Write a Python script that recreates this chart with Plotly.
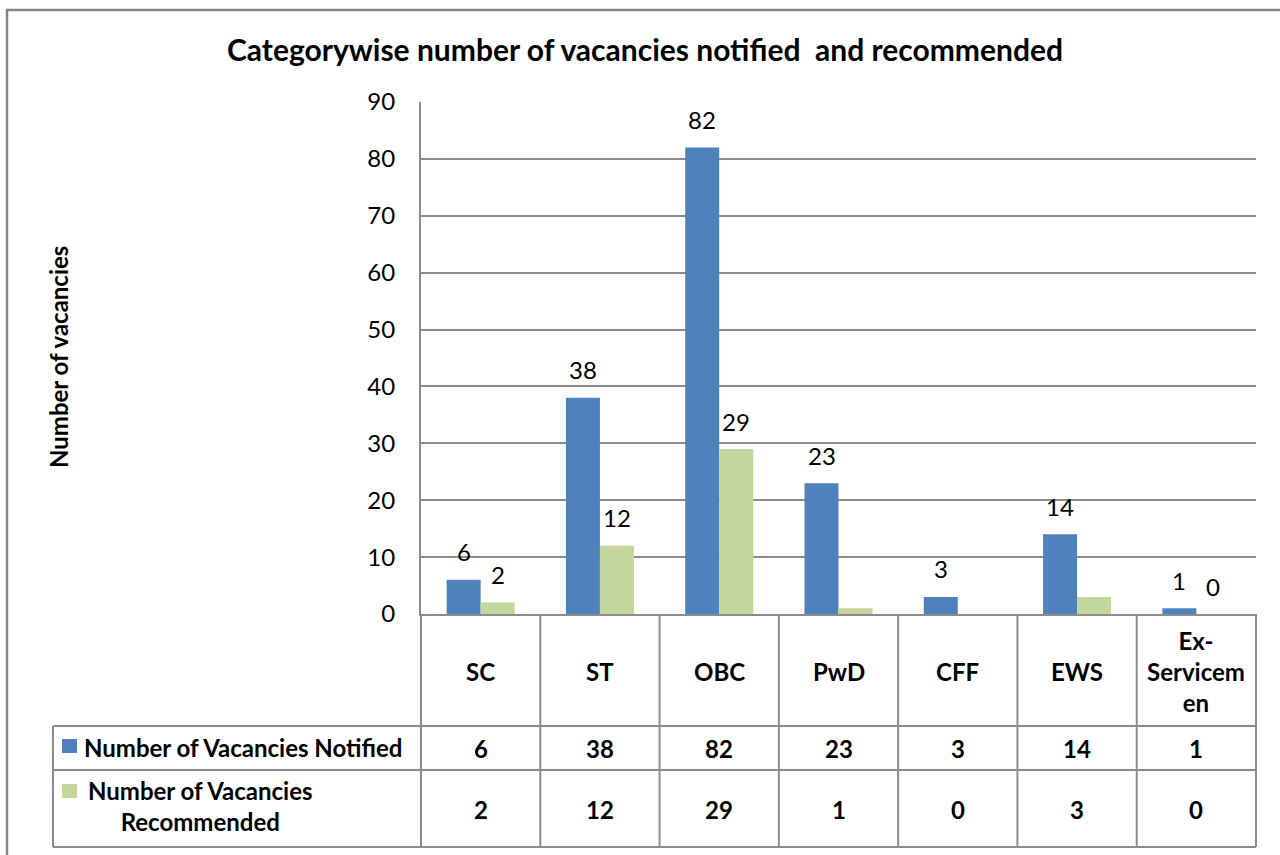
import plotly.graph_objects as go

# ---------------- data ----------------
categories = ["SC", "ST", "OBC", "PwD", "CFF", "EWS", "Ex-Servicemen"]
header_labels = ["SC", "ST", "OBC", "PwD", "CFF", "EWS", "Ex-<br>Servicem<br>en"]
notified = [6, 38, 82, 23, 3, 14, 1]
recommended = [2, 12, 29, 1, 0, 3, 0]
recommended_label_shown = [True, True, True, False, False, False, True]
series_names = ["Number of Vacancies Notified", "Number of Vacancies<br>Recommended"]
y_ticks = [0, 10, 20, 30, 40, 50, 60, 70, 80, 90]

title_text = "Categorywise number of vacancies notified  and recommended"
y_title = "Number of vacancies"

# ---------------- style ----------------
BLUE = "#4F81BD"
GREEN = "#C3D69B"
GRID = "#8C8C8C"
FONT = "Lato"
FS = 24
W, H = 1280, 855
L, R, T, B = 421, 1256, 102, 614  # plot area in px


def px_x(px):
    return (px - L) / (R - L)


def px_y(py):
    return (B - py) / (B - T)


fig = go.Figure()
fig.add_trace(go.Bar(x=categories, y=notified, name="Notified", marker=dict(color=BLUE, line=dict(width=0))))
fig.add_trace(go.Bar(x=categories, y=recommended, name="Recommended", marker=dict(color=GREEN, line=dict(width=0))))

ann = []
shapes = []
reg = dict(family=FONT, size=FS, color="#000")
bold = dict(family=FONT, size=FS, color="#000", weight="bold")

# data labels above bars
for c, v in zip(categories, notified):
    ann.append(dict(x=c, y=v, xref="x", yref="y", text=str(v), showarrow=False,
                    xshift=-17, yshift=28, yanchor="middle", font=reg))
for c, v, s in zip(categories, recommended, recommended_label_shown):
    if s:
        ann.append(dict(x=c, y=v, xref="x", yref="y", text=str(v), showarrow=False,
                        xshift=17, yshift=28, yanchor="middle", font=reg))

# table header labels
for c, lab in zip(categories, header_labels):
    ann.append(dict(x=c, y=px_y(671), xref="x", yref="paper", text=lab, showarrow=False,
                    yanchor="middle", font=bold))
# table values
for c, v in zip(categories, notified):
    ann.append(dict(x=c, y=px_y(748), xref="x", yref="paper", text=str(v), showarrow=False,
                    yanchor="middle", font=bold))
for c, v in zip(categories, recommended):
    ann.append(dict(x=c, y=px_y(809), xref="x", yref="paper", text=str(v), showarrow=False,
                    yanchor="middle", font=bold))

# legend keys inside table
ann.append(dict(x=px_x(82), y=px_y(747), xref="paper", yref="paper", text=series_names[0],
                showarrow=False, xanchor="left", yanchor="middle", font=bold))
ann.append(dict(x=px_x(200), y=px_y(806), xref="paper", yref="paper", text=series_names[1],
                showarrow=False, xanchor="center", yanchor="middle", align="center", font=bold))
shapes.append(dict(type="rect", xref="paper", yref="paper", x0=px_x(62), x1=px_x(77),
                   y0=px_y(753), y1=px_y(739), fillcolor=BLUE, line=dict(width=0)))
shapes.append(dict(type="rect", xref="paper", yref="paper", x0=px_x(62), x1=px_x(77),
                   y0=px_y(798), y1=px_y(784), fillcolor=GREEN, line=dict(width=0)))

# y axis title
ann.append(dict(x=px_x(58), y=px_y(357), xref="paper", yref="paper", text=y_title, textangle=-90,
                showarrow=False, xanchor="center", yanchor="middle", font=bold))

# table grid lines
line = dict(color=GRID, width=2)
for i in range(1, len(categories)):
    shapes.append(dict(type="line", xref="x", yref="paper", x0=i - 0.5, x1=i - 0.5,
                       y0=0, y1=px_y(847), line=line))
for xx in (0, 1):
    shapes.append(dict(type="line", xref="paper", yref="paper", x0=xx, x1=xx,
                       y0=0, y1=px_y(847), line=line))
shapes.append(dict(type="line", xref="paper", yref="paper", x0=px_x(53), x1=px_x(53),
                   y0=px_y(726), y1=px_y(847), line=line))
for yy in (726, 770, 847):
    shapes.append(dict(type="line", xref="paper", yref="paper", x0=px_x(53), x1=1,
                       y0=px_y(yy), y1=px_y(yy), line=line))

# outer chart border (left and top)
shapes.append(dict(type="line", xref="paper", yref="paper", x0=px_x(7), x1=px_x(7),
                   y0=px_y(10), y1=px_y(870), line=dict(color="#868686", width=2.5)))
shapes.append(dict(type="line", xref="paper", yref="paper", x0=px_x(6), x1=px_x(1290),
                   y0=px_y(10), y1=px_y(10), line=dict(color="#868686", width=2.5)))

fig.update_layout(
    width=W, height=H,
    margin=dict(l=L, r=W - R, t=T, b=H - B, pad=0),
    paper_bgcolor="white", plot_bgcolor="white",
    showlegend=False,
    barmode="group", bargap=0.43, bargroupgap=0,
    font=dict(family=FONT, color="#000"),
    title=dict(text=title_text, x=645 / W, xanchor="center", xref="container",
               y=1 - 50 / H, yanchor="middle", yref="container",
               font=dict(family=FONT, size=30, color="#000", weight="bold")),
    xaxis=dict(showticklabels=False, ticks="", showgrid=False, showline=True,
               linecolor=GRID, linewidth=2, zeroline=False, fixedrange=True),
    yaxis=dict(range=[0, 90], tickvals=y_ticks, showgrid=True, gridcolor=GRID, gridwidth=1.5,
               showline=True, linecolor=GRID, linewidth=2, zeroline=False,
               ticks="", ticklabelstandoff=19, tickfont=reg, fixedrange=True),
    annotations=ann,
    shapes=shapes,
)

fig.write_html("out.html", config={"displayModeBar": False},
               post_script="document.body.style.margin='0';document.body.style.overflow='hidden';")
